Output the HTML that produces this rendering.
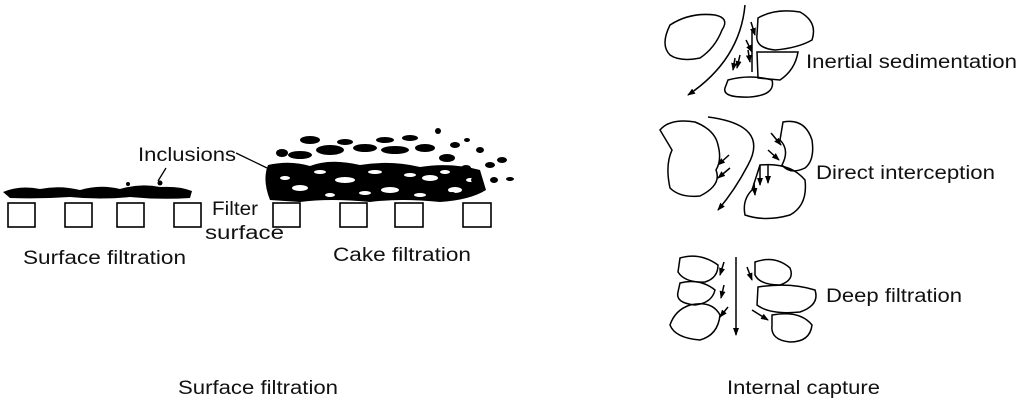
<!DOCTYPE html>
<html><head><style>
body{margin:0;background:#fff;}
svg{display:block;font-family:"Liberation Sans",sans-serif;}
</style></head><body>
<svg width="1024" height="408" viewBox="0 0 1024 408">
<defs><marker id="a" markerWidth="8" markerHeight="8" refX="7" refY="4" orient="auto" markerUnits="userSpaceOnUse"><path d="M0,1 L8,4 L0,7 Z" fill="#000"/></marker></defs>
<g fill="none" stroke="#000" stroke-width="1.6">
<rect x="8" y="203" width="27" height="24"/><rect x="65" y="203" width="27" height="24"/><rect x="117" y="203" width="27" height="24"/><rect x="174" y="203" width="27" height="24"/>
<rect x="273" y="203" width="27" height="24"/><rect x="340" y="203" width="27" height="24"/><rect x="395" y="203" width="28" height="24"/><rect x="463" y="203" width="28" height="24"/>
</g>
<g fill="#000">
<path d="M3,192 Q20,185 40,189 Q60,185 80,190 Q100,184 120,189 Q140,183 160,187 Q180,186 192,191 L190,198 Q160,200 130,197 Q100,200 70,197 Q40,199 10,198 Z"/>
<circle cx="128" cy="184" r="2"/><circle cx="160" cy="183" r="2.5"/>
<path d="M270,200 Q262,180 268,165 Q290,160 310,166 Q330,158 360,165 Q390,160 420,167 Q450,162 480,170 L486,190 Q470,200 440,202 Q400,198 370,202 Q330,198 300,202 Z"/>
<g fill="#fff">
<ellipse cx="300" cy="188" rx="8" ry="3"/><ellipse cx="345" cy="180" rx="10" ry="3"/><ellipse cx="390" cy="190" rx="9" ry="3"/><ellipse cx="430" cy="178" rx="8" ry="3"/><ellipse cx="320" cy="172" rx="6" ry="2"/><ellipse cx="410" cy="175" rx="6" ry="2"/><ellipse cx="455" cy="190" rx="7" ry="3"/><ellipse cx="365" cy="193" rx="6" ry="2"/>
<ellipse cx="285" cy="178" rx="5" ry="2"/><ellipse cx="375" cy="172" rx="7" ry="2"/><ellipse cx="445" cy="172" rx="5" ry="2"/><ellipse cx="330" cy="195" rx="5" ry="2"/><ellipse cx="420" cy="195" rx="6" ry="2"/><ellipse cx="470" cy="180" rx="4" ry="2"/>
</g>
<ellipse cx="300" cy="155" rx="12" ry="4"/><ellipse cx="330" cy="150" rx="14" ry="5"/><ellipse cx="365" cy="148" rx="12" ry="4"/><ellipse cx="395" cy="150" rx="14" ry="4"/><ellipse cx="425" cy="148" rx="10" ry="4"/>
<ellipse cx="310" cy="140" rx="10" ry="4"/><ellipse cx="345" cy="142" rx="8" ry="3"/><ellipse cx="385" cy="140" rx="9" ry="3"/><ellipse cx="410" cy="138" rx="8" ry="3"/><ellipse cx="282" cy="153" rx="6" ry="4"/>
<ellipse cx="447" cy="158" rx="8" ry="4"/><ellipse cx="455" cy="145" rx="5" ry="3"/><ellipse cx="466" cy="168" rx="5" ry="3"/><ellipse cx="480" cy="150" rx="4" ry="3"/><ellipse cx="490" cy="165" rx="5" ry="3"/><ellipse cx="502" cy="160" rx="5" ry="3"/><ellipse cx="494" cy="180" rx="4" ry="3"/><ellipse cx="475" cy="180" rx="4" ry="3"/><ellipse cx="467" cy="140" rx="3" ry="2"/><ellipse cx="438" cy="131" rx="3" ry="3"/><ellipse cx="510" cy="179" rx="4" ry="2"/><ellipse cx="452" cy="196" rx="5" ry="4"/>
</g>
<path d="M236,153 L267,168" stroke="#000" stroke-width="1.3"/>
<path d="M166,168 L158,181" stroke="#000" stroke-width="1.3"/>
<g font-size="19" fill="#111" lengthAdjust="spacingAndGlyphs">
<text x="138" y="161" textLength="98" lengthAdjust="spacingAndGlyphs">Inclusions</text>
<text x="212" y="215" textLength="46" lengthAdjust="spacingAndGlyphs">Filter</text>
<text x="205" y="239" textLength="79" lengthAdjust="spacingAndGlyphs">surface</text>
<text x="23" y="264" textLength="163" lengthAdjust="spacingAndGlyphs">Surface filtration</text>
<text x="333" y="261" textLength="138" lengthAdjust="spacingAndGlyphs">Cake filtration</text>
<text x="806" y="68" textLength="211" lengthAdjust="spacingAndGlyphs">Inertial sedimentation</text>
<text x="816" y="179" textLength="179" lengthAdjust="spacingAndGlyphs">Direct interception</text>
<text x="826" y="302" textLength="136" lengthAdjust="spacingAndGlyphs">Deep filtration</text>
<text x="178" y="394" textLength="160" lengthAdjust="spacingAndGlyphs">Surface filtration</text>
<text x="727" y="394" textLength="153" lengthAdjust="spacingAndGlyphs">Internal capture</text>
</g>
<g fill="none" stroke="#000" stroke-width="1.5">
<path d="M670,25 Q690,12 715,15 Q730,18 722,30 Q715,48 700,58 Q680,62 670,55 Q660,45 670,25 Z"/>
<path d="M758,18 Q775,8 800,12 Q818,22 812,40 Q798,48 775,50 Q755,48 757,35 Z"/>
<path d="M757,52 L798,52 Q795,70 780,80 L758,78 Z"/>
<path d="M728,80 Q750,74 772,80 Q776,95 750,97 Q722,98 725,88 Z"/>
<path d="M745,5 Q740,60 688,95" marker-end="url(#a)"/>
<path d="M752,72 L752,30"/>
<path d="M751,22 L755,35" marker-end="url(#a)"/><path d="M746,40 L752,52" marker-end="url(#a)"/><path d="M748,50 L750,62" marker-end="url(#a)"/><path d="M740,55 L737,68" marker-end="url(#a)"/><path d="M735,58 L733,70" marker-end="url(#a)"/>
<path d="M660,130 Q670,118 695,122 Q715,130 718,145 Q722,160 716,170 Q722,185 700,196 Q680,198 670,188 Q665,165 672,150 Z"/>
<path d="M783,122 Q805,118 812,140 Q815,160 805,168 Q790,175 782,165 Q790,150 780,140 Z"/>
<path d="M760,165 Q790,162 805,180 Q808,205 790,215 Q765,222 745,215 Q742,200 752,190 Z"/>
<path d="M708,117 Q770,125 748,165 Q735,190 718,210" marker-end="url(#a)"/>
<path d="M729,155 L718,165" marker-end="url(#a)"/><path d="M730,168 L718,178" marker-end="url(#a)"/><path d="M771,133 L781,145" marker-end="url(#a)"/><path d="M768,150 L779,160" marker-end="url(#a)"/><path d="M760,165 L760,185" marker-end="url(#a)"/><path d="M768,165 L768,183" marker-end="url(#a)"/><path d="M754,183 L755,195" marker-end="url(#a)"/>
<path d="M680,258 Q700,252 718,265 Q718,278 705,282 Q685,283 678,272 Z"/>
<path d="M680,283 Q700,278 715,290 Q712,303 695,305 Q675,303 678,292 Z"/>
<path d="M690,305 Q712,300 720,315 Q718,335 700,340 Q675,338 670,325 Q675,310 690,305 Z"/>
<path d="M755,262 Q775,255 790,268 Q795,280 780,285 Q760,285 755,275 Z"/>
<path d="M758,287 Q790,282 815,290 Q820,305 800,312 Q770,315 757,305 Z"/>
<path d="M772,315 Q800,310 812,325 Q810,342 790,342 Q770,340 772,325 Z"/>
<path d="M736,257 L736,335" marker-end="url(#a)"/>
<path d="M724,262 L720,275" marker-end="url(#a)"/><path d="M724,285 L721,298" marker-end="url(#a)"/><path d="M728,307 L720,317" marker-end="url(#a)"/><path d="M747,267 L752,280" marker-end="url(#a)"/><path d="M752,310 L768,320" marker-end="url(#a)"/>
</g>
</svg>
</body></html>
